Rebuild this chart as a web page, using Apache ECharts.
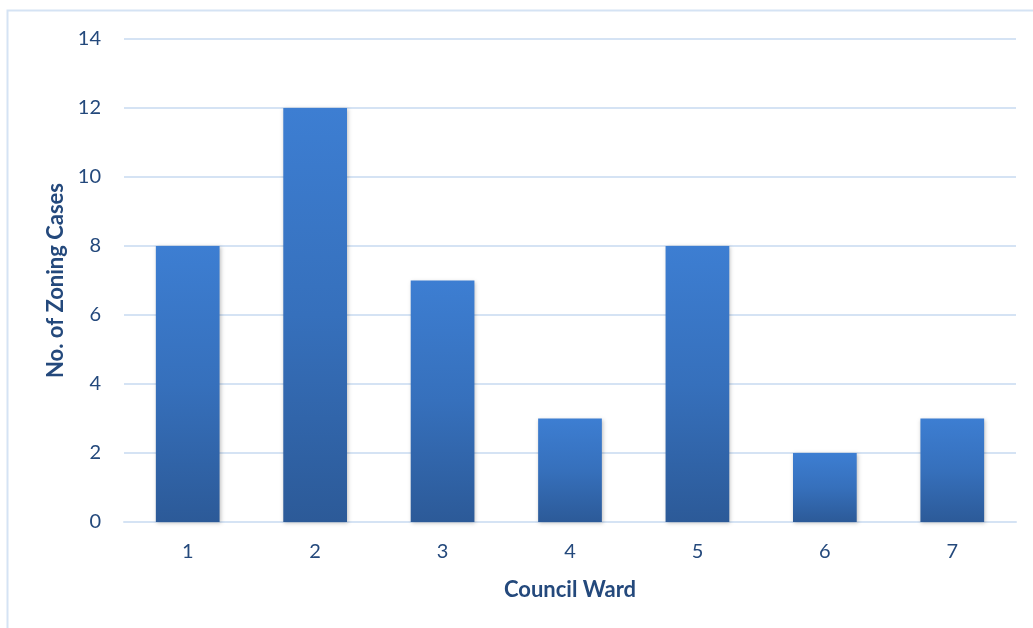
<!DOCTYPE html>
<html>
<head>
<meta charset="utf-8">
<script src="https://cdn.jsdelivr.net/npm/echarts@6/dist/echarts.min.js"></script>
<style>
  html, body { margin: 0; padding: 0; background: #fff; }
  #chart { width: 1033px; height: 628px; }
</style>
</head>
<body>
<div id="chart"></div>
<script>
  // council wards and zoning case counts
  const wards = ['1', '2', '3', '4', '5', '6', '7'];
  const cases = [8, 12, 7, 3, 8, 2, 3];
  const yTicks = [0, 2, 4, 6, 8, 10, 12, 14];

  const textColor = '#24497c';
  const font = 'Lato, "Open Sans", sans-serif';

  const myChart = echarts.init(document.getElementById('chart'), null, {renderer: 'canvas'});
  myChart.setOption({
    animation: false,
    textStyle: {fontFamily: font},
    graphic: [
      {
        type: 'rect',
        shape: {x: 7.5, y: 10.5, width: 1040, height: 640},
        style: {fill: 'none', stroke: '#d5e3f4', lineWidth: 2},
        silent: true
      }
    ],
    grid: {left: 124, right: 17, top: 39, bottom: 106},
    xAxis: {
      type: 'category',
      data: wards,
      name: 'Council Ward',
      nameLocation: 'middle',
      nameGap: 57,
      nameTextStyle: {color: textColor, fontSize: 22, fontWeight: 'bold', fontFamily: font},
      axisLine: {show: true, lineStyle: {color: '#d5e3f4', width: 2}},
      axisTick: {show: false},
      axisLabel: {color: textColor, fontSize: 20, margin: 20}
    },
    yAxis: {
      type: 'value',
      min: yTicks[0],
      max: yTicks[yTicks.length - 1],
      interval: 2,
      name: 'No. of Zoning Cases',
      nameLocation: 'middle',
      nameGap: 57,
      nameTextStyle: {color: textColor, fontSize: 22, fontWeight: 'bold', fontFamily: font},
      axisLine: {show: false},
      axisTick: {show: false},
      axisLabel: {color: textColor, fontSize: 20, margin: 23},
      splitLine: {lineStyle: {color: '#d5e3f4', width: 2}}
    },
    series: [
      {
        type: 'bar',
        data: cases,
        barWidth: '50%',
        itemStyle: {
          color: new echarts.graphic.LinearGradient(0, 0, 0, 1, [
            {offset: 0, color: '#3d7ed2'},
            {offset: 0.5, color: '#3670bc'},
            {offset: 1, color: '#2c5a98'}
          ]),
          shadowBlur: 4,
          shadowOffsetX: 1,
          shadowOffsetY: 1,
          shadowColor: 'rgba(0, 0, 0, 0.25)'
        }
      }
    ]
  });
</script>
</body>
</html>
